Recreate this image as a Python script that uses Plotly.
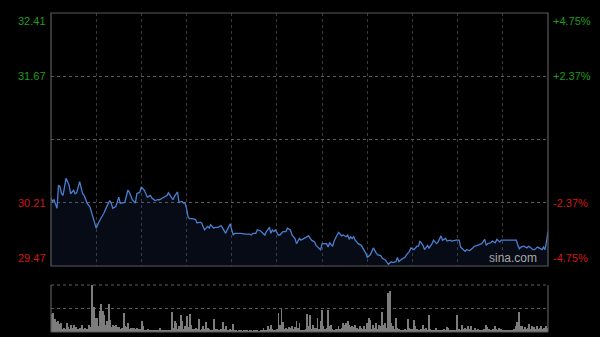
import plotly.graph_objects as go

# ---------------- data ----------------
prev_close = 30.94
price_min, price_max = 29.47, 32.41
left_labels = ["32.41", "31.67", "30.21", "29.47"]
right_labels = ["+4.75%", "+2.37%", "-2.37%", "-4.75%"]

minutes = [0, 1, 2, 3, 4, 5, 6, 7, 8, 10, 12, 13, 15, 16, 17, 19, 21, 22, 24, 26, 28, 29, 30, 32, 35, 37, 39, 40, 41, 43,
           45, 46, 48, 49, 51, 52, 54, 56, 57, 59, 60, 62, 64,
           66, 67, 69, 71, 72, 74, 75, 77, 78, 80, 81, 82, 84, 85, 87, 88, 89, 90, 91, 92, 94, 96, 97, 99, 100, 101, 102,
           104, 105, 106, 108, 109, 111, 113, 114, 116, 117, 119, 120, 121, 122, 126, 129, 132,
           133, 134, 136, 137, 139, 141, 142, 143, 145, 146, 147, 148, 149, 151, 152, 154, 156, 157, 159, 160, 162, 163,
           164, 165, 166, 168, 170, 171, 173, 175, 176, 178, 179, 180, 181, 183, 184, 185, 187, 188, 190, 191, 193, 194,
           196, 197, 198,
           199, 200, 201, 202, 204, 206, 207, 208, 209, 210, 212, 213, 214, 216, 217, 219, 220, 222, 223, 224, 226, 227,
           229, 230, 231, 232, 233, 235, 236, 238, 239, 241, 243, 244, 245, 247, 248, 250, 251, 253, 254, 256, 257, 259,
           260, 262, 263, 265,
           266, 269, 271, 272, 274, 275, 276, 278, 280, 281, 283, 285, 286, 288, 289, 290, 292, 293, 295, 296, 298, 299,
           304, 309, 310, 311, 312, 314, 316, 317, 318, 320, 321, 323, 324, 326, 327, 328, 329, 330]

prices = [30.26, 30.22, 30.24, 30.20, 30.14, 30.41, 30.39, 30.31, 30.29, 30.49, 30.41, 30.31, 30.35, 30.31, 30.32,
          30.45, 30.31, 30.29, 30.20, 30.15, 30.04, 29.98, 29.91, 29.99, 30.08, 30.16, 30.23, 30.20, 30.14, 30.16,
          30.27, 30.20, 30.21, 30.21, 30.35, 30.33, 30.24, 30.20, 30.31, 30.33, 30.39, 30.35, 30.27,
          30.29, 30.26, 30.23, 30.24, 30.24, 30.26, 30.27, 30.29, 30.32, 30.26, 30.24, 30.28, 30.33, 30.21, 30.22,
          30.20, 30.20, 30.14, 30.04, 30.02, 30.02, 30.01, 29.97, 29.98, 29.97, 29.93, 29.89,
          29.93, 29.91, 29.95, 29.91, 29.92, 29.92, 29.94, 29.91, 29.85, 29.89, 29.96, 29.89, 29.83, 29.85, 29.85,
          29.84, 29.84,
          29.83, 29.85, 29.85, 29.89, 29.88, 29.85, 29.83, 29.87, 29.92, 29.85, 29.89, 29.87, 29.89, 29.83, 29.83,
          29.87, 29.87, 29.91, 29.89, 29.83, 29.79, 29.73,
          29.77, 29.79, 29.77, 29.79, 29.81, 29.82, 29.77, 29.75, 29.71, 29.68, 29.66, 29.73, 29.73, 29.73, 29.69,
          29.74, 29.70, 29.76, 29.83, 29.86, 29.82, 29.83,
          29.81, 29.83, 29.78,
          29.81, 29.79, 29.81, 29.77, 29.73, 29.71, 29.68, 29.64, 29.62, 29.57, 29.60, 29.64, 29.68, 29.62, 29.60,
          29.59, 29.56, 29.54, 29.52, 29.49, 29.52, 29.51,
          29.52, 29.57, 29.52, 29.54, 29.55, 29.57, 29.60, 29.64, 29.68, 29.66, 29.70, 29.70, 29.76, 29.71, 29.66,
          29.71, 29.68, 29.73, 29.77, 29.73, 29.75, 29.82,
          29.77, 29.79, 29.76, 29.77,
          29.76, 29.77, 29.77, 29.69, 29.65, 29.64, 29.66, 29.65, 29.68, 29.70, 29.71, 29.73, 29.73, 29.78, 29.71,
          29.73, 29.74, 29.76, 29.74, 29.78, 29.75, 29.77,
          29.77, 29.77, 29.71, 29.67, 29.69, 29.70, 29.68, 29.70, 29.69, 29.66, 29.66, 29.69, 29.68, 29.66, 29.69,
          29.66, 29.75, 29.87]

volume = [
    55, 57, 40, 30, 32, 25, 28, 10, 12, 8,
    27, 15, 10, 22, 12, 20, 15, 10, 9, 11,
    22, 8, 12, 10, 9, 20, 14, 142, 75, 42,
    42, 18, 62, 85, 62, 52, 20, 32, 85, 37,
    15, 20, 18, 22, 16, 15, 10, 12, 57, 17,
    14, 27, 10, 12, 11, 12, 9, 12, 8, 10,
    32, 17, 7, 6, 8, 7, 5, 7, 6, 7,
    6, 5, 12, 6, 4, 5, 5, 4, 5, 6,
    59, 12, 32, 27, 10, 17, 52, 32, 10, 17,
    47, 15, 55, 22, 10, 9, 12, 8, 39, 7,
    9, 17, 10, 29, 12, 8, 6, 7, 39, 8,
    9, 6, 7, 10, 29, 8, 17, 6, 5, 9,
    6, 25, 7, 4, 3, 4, 5, 3, 4, 5,
    4, 3, 4, 5, 3, 4, 4, 5, 3, 4,
    5, 12, 4, 6, 17, 8, 22, 9, 7, 6,
    10, 57, 20, 69, 29, 9, 12, 8, 14, 12,
    17, 10, 15, 32, 12, 27, 7, 6, 7, 8,
    54, 17, 50, 10, 22, 12, 12, 42, 9, 32,
    65, 17, 8, 12, 65, 17, 22, 9, 7, 10,
    8, 17, 9, 12, 27, 22, 27, 32, 22, 15,
    17, 15, 22, 12, 10, 17, 12, 9, 17, 10,
    27, 42, 37, 10, 22, 12, 27, 9, 22, 17,
    59, 22, 27, 12, 119, 124, 27, 19, 10, 42,
    12, 8, 7, 6, 7, 8, 6, 39, 12, 8,
    10, 37, 17, 9, 6, 5, 8, 22, 9, 12,
    7, 52, 8, 5, 6, 4, 12, 5, 6, 4,
    5, 9, 6, 15, 12, 6, 5, 4, 6, 5,
    52, 8, 7, 22, 9, 12, 8, 19, 10, 17,
    6, 7, 12, 5, 8, 6, 7, 5, 9, 22,
    15, 8, 6, 7, 10, 19, 8, 6, 12, 9,
    6, 5, 4, 6, 5, 7, 4, 6, 10, 19,
    29, 59, 17, 19, 10, 15, 9, 12, 25, 10,
    17, 15, 9, 17, 10, 12, 19, 10, 12, 19,
    12]
vol_minutes = list(range(len(volume)))
total_minutes = 330

# ---------------- styling ----------------
W, H = 600, 337
ml, mr, mt, mb = 51, 52, 13, 5
plot_h = H - mt - mb
main_bottom = (H - mb - 266) / plot_h
vol_top = (H - mb - 285) / plot_h

GREEN = "#1f9b1f"
RED = "#cf1717"
LINE = "#4a7fd0"
GRID_V = "#3a3a3a"
GRID_H = "#5c5c5c"
BORDER = "#5a5a5a"
FONT = "Liberation Sans, Arial, sans-serif"

fig = go.Figure()

# baseline for fill
fig.add_trace(go.Scatter(x=[minutes[0], minutes[-1]], y=[price_min, price_min], mode="lines",
                         line=dict(width=0), hoverinfo="skip", showlegend=False,
                         xaxis="x", yaxis="y"))
fig.add_trace(go.Scatter(x=minutes, y=prices, mode="lines", fill="tonexty",
                         fillcolor="rgba(35,65,125,0.17)",
                         line=dict(color=LINE, width=1.3), showlegend=False,
                         xaxis="x", yaxis="y"))
fig.add_trace(go.Bar(x=vol_minutes, y=volume, marker=dict(color="#7c7c7c", line=dict(width=0)),
                     width=0.62, showlegend=False, xaxis="x2", yaxis="y2"))

q = (price_max - price_min) / 4
grid_vals = [price_max - q, prev_close, price_min + q]

fig.update_layout(
    width=W, height=H,
    margin=dict(l=ml, r=mr, t=mt, b=mb),
    paper_bgcolor="#000000", plot_bgcolor="#000000",
    font=dict(family=FONT, size=11),
    xaxis=dict(domain=[0, 1], range=[0, total_minutes], tick0=0, dtick=30, showgrid=True,
               gridcolor=GRID_V, griddash="dot", gridwidth=1, showticklabels=False, ticks="",
               zeroline=False, showline=False, anchor="y"),
    yaxis=dict(domain=[main_bottom, 1], range=[price_min, price_max], tickvals=grid_vals,
               showgrid=True, gridcolor=GRID_H, griddash="dot", gridwidth=1,
               showticklabels=False, ticks="", zeroline=False, showline=False, anchor="x"),
    xaxis2=dict(domain=[0, 1], range=[-0.5, total_minutes + 0.5], showgrid=False, showticklabels=False,
                ticks="", zeroline=False, showline=False, anchor="y2"),
    yaxis2=dict(domain=[0, vol_top], range=[0, max(volume)], tickvals=[max(volume) / 2],
                showgrid=True, gridcolor=GRID_H, griddash="dot", showticklabels=False, ticks="",
                zeroline=False, showline=False, anchor="x2"),
    bargap=0,
)

shapes = [
    # main frame
    dict(type="rect", xref="paper", yref="paper", x0=0, x1=1, y0=main_bottom, y1=1,
         line=dict(color=BORDER, width=1.2), fillcolor="rgba(0,0,0,0)"),
    # volume frame parts
    dict(type="line", xref="paper", yref="paper", x0=0, x1=0, y0=0, y1=vol_top,
         line=dict(color=BORDER, width=1.2)),
    dict(type="line", xref="paper", yref="paper", x0=1, x1=1, y0=0, y1=vol_top,
         line=dict(color=BORDER, width=1.2)),
    dict(type="line", xref="paper", yref="paper", x0=0, x1=1, y0=0, y1=0,
         line=dict(color=BORDER, width=1.2)),
    dict(type="line", xref="paper", yref="paper", x0=0, x1=1, y0=vol_top, y1=vol_top,
         line=dict(color=GRID_H, width=1, dash="dot")),
]
fig.update_layout(shapes=shapes)

ann = []
label_pos = [(price_max, "top"), (price_max - q, "middle"), (price_min + q, "middle"), (price_min, "bottom")]
for i, (val, anc) in enumerate(label_pos):
    col = GREEN if i < 2 else RED
    ann.append(dict(xref="paper", yref="y", x=0, y=val, xanchor="right", yanchor=anc,
                    text=left_labels[i], showarrow=False, xshift=-3,
                    font=dict(color=col, size=11, family=FONT)))
    ann.append(dict(xref="paper", yref="y", x=1, y=val, xanchor="left", yanchor=anc,
                    text=right_labels[i], showarrow=False, xshift=3,
                    font=dict(color=col, size=11, family=FONT)))
ann.append(dict(xref="paper", yref="y", x=1, y=price_min, xanchor="right", yanchor="bottom",
                text="sina.com", showarrow=False, xshift=-9, yshift=-1,
                font=dict(color="#a8a8a8", size=12, family=FONT)))
fig.update_layout(annotations=ann)

fig.write_html("out.html")
